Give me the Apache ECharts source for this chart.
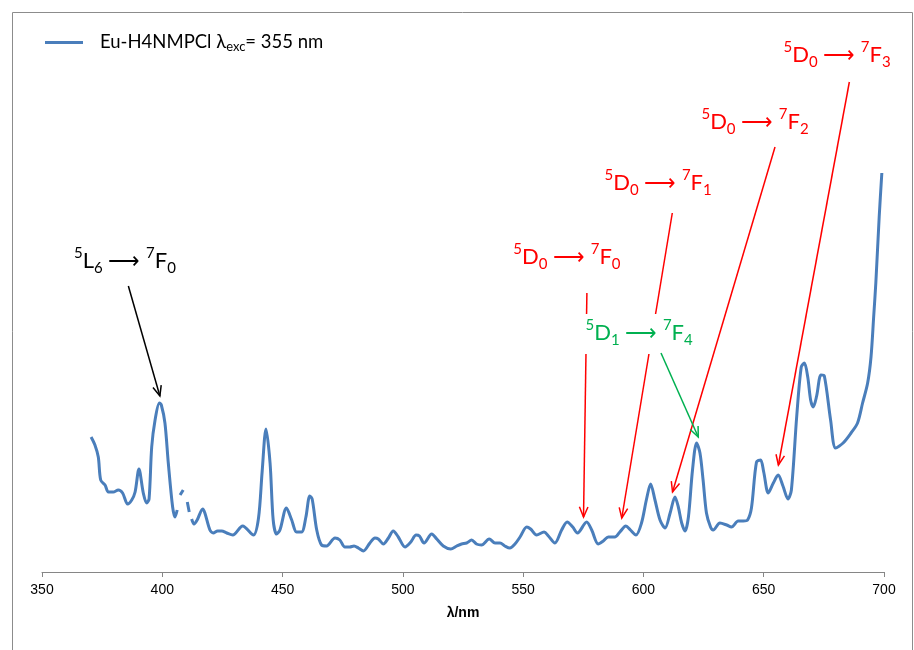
<!DOCTYPE html>
<html><head><meta charset="utf-8">
<script src="https://cdn.jsdelivr.net/npm/echarts@6/dist/echarts.min.js"></script>
<style>html,body{margin:0;padding:0;background:#fff}#c{width:914px;height:650px}</style>
</head><body><div id="c"></div>
<script>
// ---- data ----
const seriesName = 'Eu-H4NMPCl λexc= 355 nm';
const wavelengths = [
370.4,372.0,373.4,374.4,376.2,377.6,379.6,381.7,383.5,385.6,387.3,388.7,390.3,392.1,393.5,394.5,395.6,397.0,398.8,399.6,
401.1,402.5,404.3,405.3,406.2,406.8,407.4,408.7,409.5,410.4,411.2,411.6,412.2,413.2,414.5,416.8,417.7,419.8,421.2,423.0,
424.7,426.8,429.3,433.4,437.9,440.0,441.5,443.1,444.8,446.1,447.5,448.9,451.6,453.8,455.8,457.9,459.7,461.3,462.3,464.2,
466.2,468.3,471.8,473.8,475.9,477.9,479.7,481.5,483.6,486.3,488.4,489.8,491.9,494.0,496.0,498.1,500.9,503.3,505.5,506.9,
508.8,512.0,514.1,516.8,519.9,522.4,524.4,526.5,528.6,530.6,532.7,535.9,538.3,540.4,542.4,544.5,546.6,548.7,551.5,553.1,
555.6,558.7,560.5,563.2,566.0,568.3,570.6,572.6,576.4,578.5,581.2,583.3,585.4,588.1,590.2,592.7,594.6,596.9,599.2,601.3,
603.0,604.8,606.9,609.0,611.1,613.1,614.5,615.9,617.3,618.7,620.4,622.1,623.5,624.8,626.2,627.9,629.0,631.8,634.6,636.6,
639.4,641.5,643.3,644.9,647.0,648.7,650.0,651.9,654.0,656.0,658.0,660.1,661.5,663.7,665.6,666.9,668.3,669.5,670.6,672.0,673.8,
675.2,677.8,679.9,683.0,686.3,689.0,691.1,693.2,694.6,695.7,696.6,698.0,699.1
];
const intensities = [
135,127,115,92,87,80,80,82,79,68,72,80,103,79,69,73,125,152,169,167,
149,109,65,55,62,null,77,82,null,70,60,null,53,48,52,63,59,42,39,41,
41,39,37,46,37,54,100,143,109,52,38,42,64,52,40,40,55,76,73,42,
27,26,34,32,25,25,26,24,21,29,34,33,28,34,41,35,25,30,37,36,
29,38,33,26,23,26,28,29,32,28,27,33,29,29,26,24,28,35,45,43,
37,40,36,29,42,50,45,39,50,42,28,31,35,35,40,46,42,37,49,73,
88,72,52,44,59,75,65,49,41,55,102,129,119,92,59,45,42,49,47,45,
51,51,52,64,110,112,100,79,89,97,86,73,82,155,205,209,195,172,165,176,197,
196,152,124,129,139,149,169,189,215,255,289,355,399
];
const xTickMin = 350, xTickMax = 700, xTickStep = 50;
const xAxisName = 'λ/nm';

// annotation labels and their anchor points in data space (λ, intensity)
const annLabels = [
  '{sup|5}{b|L}{sub|6}{b| ⟶ }{sup|7}{b|F}{sub|0}',
  '{sup|5}{b|D}{sub|0}{b| ⟶ }{sup|7}{b|F}{sub|0}',
  '{sup|5}{b|D}{sub|0}{b| ⟶ }{sup|7}{b|F}{sub|1}',
  '{sup|5}{b|D}{sub|0}{b| ⟶ }{sup|7}{b|F}{sub|2}',
  '{sup|5}{b|D}{sub|0}{b| ⟶ }{sup|7}{b|F}{sub|3}',
  '{sup|5}{b|D}{sub|1}{b| ⟶ }{sup|7}{b|F}{sub|4}'
];
const annKinds = ['black','red','red','red','red','green'];
const annTails = [[385.9,286],[576.5,279],[612.0,359],[654.7,425],[685.6,490],[607.3,219]];
const annHeads = [[399.0,176],[575.1,55],[591.0,54],[612.1,80],[656.1,107],[622.8,135]];
const annTexts = [[384.5,311],[568.2,315],[606.1,389],[646.4,450],[680.5,517],[598.2,238]];

// ---- chart ----
const COLORS = {black:'#000000', red:'#ff0000', green:'#00b050'};
const chart = echarts.init(document.getElementById('c'), null, {renderer:'canvas'});
const data = wavelengths.map((w,i)=>[w, intensities[i]]);

chart.setOption({
  animation:false,
  backgroundColor:'#ffffff',
  grid:{left:42,right:30,top:12,bottom:78,containLabel:false},
  legend:{
    left:45, top:33, padding:0, icon:'rect', itemWidth:38, itemHeight:3,
    data:[seriesName],
    formatter:()=>'{a|Eu-H4NMPCl λ}{s|exc}{a|= 355 nm}',
    textStyle:{padding:[0,0,0,12], rich:{
      a:{fontFamily:'Lato',fontSize:18.5,color:'#000',lineHeight:22},
      s:{fontFamily:'Lato',fontSize:13,color:'#000',verticalAlign:'bottom',lineHeight:15}
    }}
  },
  xAxis:{
    type:'value', min:xTickMin, max:xTickMax, interval:xTickStep,
    name:xAxisName, nameLocation:'middle', nameGap:34,
    nameTextStyle:{fontFamily:'Liberation Sans',fontSize:14,fontWeight:'bold',color:'#000'},
    axisLine:{show:true,lineStyle:{color:'#868686',width:1}},
    axisTick:{show:true,length:5,lineStyle:{color:'#868686'}},
    axisLabel:{fontFamily:'Liberation Sans',fontSize:14,color:'#000',margin:11},
    splitLine:{show:false}
  },
  yAxis:{type:'value',min:0,max:560,show:false,splitLine:{show:false}},
  series:[{
    name:seriesName, type:'line', data:data, smooth:0.3, connectNulls:false,
    showSymbol:false, symbol:'none',
    lineStyle:{color:'#4a7ebb',width:3},
    itemStyle:{color:'#4a7ebb'}
  }]
});

function arrowHead(x1,y1,x2,y2,len,ang){
  const a = Math.atan2(y2-y1,x2-x1);
  return [[x2-len*Math.cos(a-ang), y2-len*Math.sin(a-ang)],[x2,y2],[x2-len*Math.cos(a+ang), y2-len*Math.sin(a+ang)]];
}
function richFor(col){
  return {
    b:{fontFamily:'Lato',fontSize:22,fill:col,lineHeight:30},
    sup:{fontFamily:'Lato',fontSize:15,fill:col,verticalAlign:'top',lineHeight:15},
    sub:{fontFamily:'Lato',fontSize:15,fill:col,verticalAlign:'bottom',lineHeight:13}
  };
}
const g = [];
g.push({type:'rect', shape:{x:12.5,y:12.5,width:900,height:660}, style:{fill:null,stroke:'#8c8c8c',lineWidth:1}, z:0});
[0,1,2,3,4,5].forEach(i=>{
  const col = COLORS[annKinds[i]];
  const t = chart.convertToPixel({gridIndex:0}, annTails[i]);
  const h = chart.convertToPixel({gridIndex:0}, annHeads[i]);
  const p = chart.convertToPixel({gridIndex:0}, annTexts[i]);
  const isGreen = annKinds[i]==='green';
  const zb = isGreen ? 20 : 10;
  const st = {text:annLabels[i], rich:richFor(col), fill:col, align:'center', verticalAlign:'middle'};
  if(isGreen){ st.backgroundColor='#ffffff'; st.padding=[4,8,6,8]; }
  g.push({type:'text', x:p[0], y:p[1], z:zb, style:st});
  g.push({type:'line', z:zb+1, shape:{x1:t[0],y1:t[1],x2:h[0],y2:h[1]}, style:{stroke:col,lineWidth:1.5}});
  g.push({type:'polyline', z:zb+1, shape:{points:arrowHead(t[0],t[1],h[0],h[1],11,0.4)}, style:{stroke:col,lineWidth:1.5,fill:null}});
});
chart.setOption({graphic:g});
</script>
</body></html>
